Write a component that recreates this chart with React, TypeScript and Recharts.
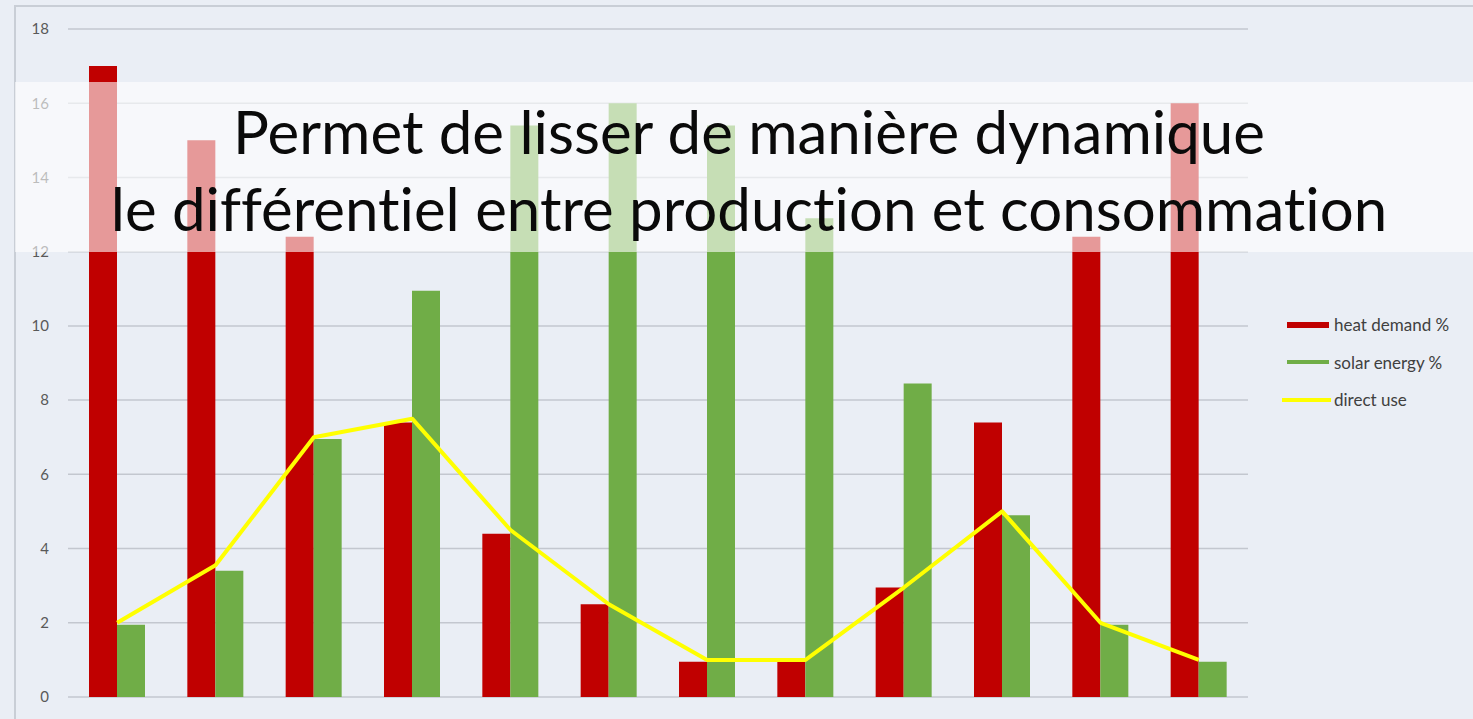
import {
  ComposedChart,
  Bar,
  Line,
  XAxis,
  YAxis,
  CartesianGrid,
} from 'recharts';

// months, no labels shown on the axis
const months = ['Jan', 'Feb', 'Mar', 'Apr', 'May', 'Jun', 'Jul', 'Aug', 'Sep', 'Oct', 'Nov', 'Dec'];
const heatDemand = [17, 15, 12.4, 7.4, 4.4, 2.5, 0.95, 0.95, 2.95, 7.4, 12.4, 16];
const solarEnergy = [1.95, 3.4, 6.95, 10.95, 15.4, 16, 15.4, 12.9, 8.45, 4.9, 1.95, 0.95];
const directUse = [2, 3.55, 7, 7.5, 4.5, 2.5, 1, 1, 2.95, 5, 2, 1];
const yTicks = [0, 2, 4, 6, 8, 10, 12, 14, 16, 18];

const titleLines = [
  'Permet de lisser de manière dynamique',
  'le différentiel entre production et consommation',
];

const legendItems = [
  { label: 'heat demand %', color: '#c00000', thickness: 6, width: 42, offset: 5 },
  { label: 'solar energy %', color: '#70ad47', thickness: 4, width: 42, offset: 5 },
  { label: 'direct use', color: '#ffff00', thickness: 4, width: 49, offset: 0 },
];

const data = months.map((m, i) => ({
  month: m,
  heat: heatDemand[i],
  solar: solarEnergy[i],
  direct: directUse[i],
}));

function LegendBox() {
  return (
    <div
      style={{
        position: 'absolute',
        left: 1282,
        top: 306,
        fontFamily: 'Lato, sans-serif',
        fontSize: 17,
        color: '#404040',
      }}
    >
      {legendItems.map((it) => (
        <div key={it.label} style={{ display: 'flex', alignItems: 'center', height: 37.5 }}>
          <span
            style={{
              display: 'inline-block',
              marginLeft: it.offset,
              width: it.width,
              height: it.thickness,
              background: it.color,
            }}
          />
          <span style={{ marginLeft: 52 - it.width - it.offset }}>{it.label}</span>
        </div>
      ))}
    </div>
  );
}

export default function App() {
  return (
    <div
      style={{
        position: 'absolute',
        left: 0,
        top: 0,
        width: 1473,
        height: 719,
        background: '#eaeef5',
        overflow: 'hidden',
      }}
    >
      {/* chart frame */}
      <div
        style={{
          position: 'absolute',
          left: 14,
          top: 5,
          right: -2,
          bottom: -2,
          borderTop: '2px solid #c9ced6',
          borderLeft: '2px solid #c9ced6',
        }}
      />
      <div style={{ position: 'absolute', left: 0, top: 0 }}>
        <ComposedChart
          width={1473}
          height={719}
          data={data}
          margin={{ top: 29, right: 225, left: 18, bottom: 22 }}
          barGap={0}
          barSize={28}
        >
          <CartesianGrid vertical={false} stroke="#c3c7cf" strokeWidth={1.5} />
          <XAxis dataKey="month" hide />
          <YAxis
            width={50}
            domain={[0, 18]}
            ticks={yTicks}
            axisLine={false}
            tickLine={false}
            tickSize={0}
            tickMargin={19}
            tick={{ fill: '#595959', fontSize: 15, fontFamily: 'Lato, sans-serif' }}
          />
          <Bar dataKey="heat" name="heat demand %" fill="#c00000" isAnimationActive={false} />
          <Bar dataKey="solar" name="solar energy %" fill="#70ad47" isAnimationActive={false} />
          <Line
            dataKey="direct"
            name="direct use"
            type="linear"
            stroke="#ffff00"
            strokeWidth={4}
            strokeLinejoin="round"
            dot={false}
            isAnimationActive={false}
          />
        </ComposedChart>
      </div>
      <LegendBox />
      {/* translucent title band */}
      <div
        style={{
          position: 'absolute',
          left: 15,
          top: 82,
          width: 1460,
          height: 170,
          background: 'rgba(255,255,255,0.6)',
        }}
      />
      {titleLines.map((t, i) => (
        <div
          key={t}
          style={{
            position: 'absolute',
            left: 0,
            width: 1498,
            top: 96 + i * 77,
            textAlign: 'center',
            fontFamily: 'Lato, sans-serif',
            fontSize: 60,
            lineHeight: '70px',
            color: '#0a0a0a',
            whiteSpace: 'nowrap',
            fontVariantLigatures: 'none',
          }}
        >
          {t}
        </div>
      ))}
    </div>
  );
}
